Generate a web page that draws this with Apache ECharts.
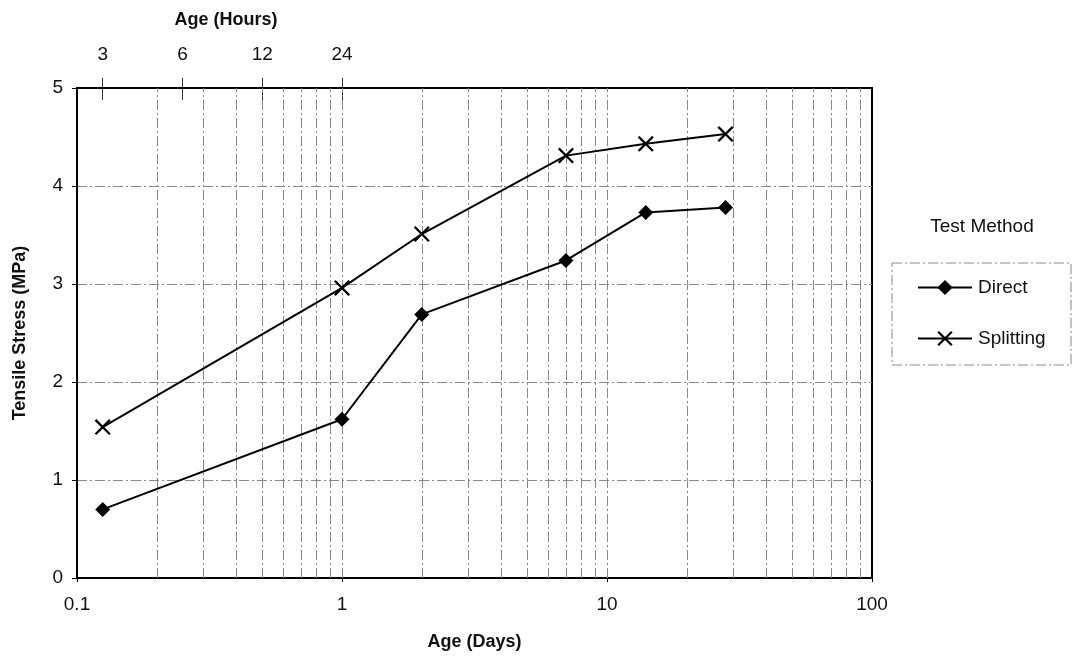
<!DOCTYPE html>
<html>
<head>
<meta charset="utf-8">
<script src="https://cdn.jsdelivr.net/npm/echarts@6/dist/echarts.min.js"></script>
<style>
  html, body { margin: 0; padding: 0; background: #fff; }
  #chart { width: 1072px; height: 671px; }
</style>
</head>
<body>
<div id="chart"></div>
<script>
// Test ages in days (3 hours, 1, 2, 7, 14 and 28 days)
const ageDays = [0.125, 1, 2, 7, 14, 28];
// Tensile stress in MPa for each test method
const directStress = [0.70, 1.62, 2.69, 3.24, 3.73, 3.78];
const splittingStress = [1.54, 2.96, 3.51, 4.31, 4.43, 4.53];
// Secondary (top) axis: ages in hours, given as days on the shared log scale
const hourTickDays = [0.125, 0.25, 0.5, 1];
// Log-scale grid positions (minor and major decade lines inside the plot)
const logGridDays = [0.2, 0.3, 0.4, 0.5, 0.6, 0.7, 0.8, 0.9, 1,
                     2, 3, 4, 5, 6, 7, 8, 9, 10,
                     20, 30, 40, 50, 60, 70, 80, 90];

const FONT = 'Liberation Sans, Arial, sans-serif';
const gridLineStyle = { color: '#888', width: 1, type: [10, 3, 2, 3] };
const xMarkPath = 'path://M0,1L1,0L10,9L9,10Z M9,0L10,1L1,10L0,9Z';

function pairs(xs, ys) { return xs.map((x, i) => [x, ys[i]]); }

const chart = echarts.init(document.getElementById('chart'), null, { renderer: 'canvas' });

chart.setOption({
  animation: false,
  backgroundColor: '#fff',
  textStyle: { fontFamily: FONT },
  grid: {
    left: 77, right: 200, top: 88, bottom: 93,
    show: true, borderColor: '#000', borderWidth: 2, backgroundColor: 'transparent'
  },
  xAxis: [
    {
      type: 'log', logBase: 10, min: 0.1, max: 100, position: 'bottom',
      name: 'Age (Days)', nameLocation: 'middle', nameGap: 55,
      nameTextStyle: { fontFamily: FONT, fontWeight: 'bold', fontSize: 18, color: '#111' },
      axisLine: { show: true, lineStyle: { color: '#000', width: 2 } },
      axisTick: { show: true, length: 4, lineStyle: { color: '#000' } },
      axisLabel: {
        fontFamily: FONT, fontSize: 19, color: '#111', margin: 17,
        formatter: v => String(+(+v).toPrecision(3))
      },
      splitLine: { show: false },
      minorTick: { show: false }
    },
    {
      type: 'log', logBase: 10, min: 0.1, max: 100, position: 'top',
      axisLine: { show: true, lineStyle: { color: '#000', width: 2 } },
      axisTick: { show: true, length: 10, customValues: hourTickDays, lineStyle: { color: '#333' } },
      axisLabel: {
        fontFamily: FONT, fontSize: 19, color: '#111', margin: 24,
        customValues: hourTickDays,
        formatter: v => String(Math.round(v * 24))
      },
      splitLine: { show: false }
    },
    {
      type: 'log', logBase: 10, min: 0.1, max: 100, position: 'top',
      axisLine: { show: false },
      axisTick: { show: true, inside: true, length: 12, customValues: hourTickDays, lineStyle: { color: '#333' } },
      axisLabel: { show: false },
      splitLine: { show: false }
    }
  ],
  yAxis: {
    type: 'value', min: 0, max: 5, interval: 1,
    name: 'Tensile Stress (MPa)', nameLocation: 'middle', nameGap: 48,
    nameTextStyle: { fontFamily: FONT, fontWeight: 'bold', fontSize: 18, color: '#111' },
    axisLine: { show: true, lineStyle: { color: '#000', width: 2 } },
    axisTick: { show: true, length: 5, lineStyle: { color: '#000' } },
    axisLabel: { fontFamily: FONT, fontSize: 19, color: '#111', margin: 14 },
    splitLine: { show: true, lineStyle: gridLineStyle }
  },
  legend: {
    data: ['Direct', 'Splitting'],
    orient: 'vertical', left: 917, top: 278,
    itemWidth: 54, itemHeight: 19, itemGap: 32,
    textStyle: { fontFamily: FONT, fontSize: 19, color: '#111', padding: [0, 0, 0, 1] },
    padding: 0
  },
  graphic: [
    {
      type: 'text', x: 226, y: 20,
      style: {
        text: 'Age (Hours)', fontFamily: FONT, fontWeight: 'bold', fontSize: 18,
        fill: '#111', align: 'center', verticalAlign: 'middle'
      }
    },
    {
      type: 'text', x: 982, y: 227,
      style: {
        text: 'Test Method', fontFamily: FONT, fontSize: 19,
        fill: '#111', align: 'center', verticalAlign: 'middle'
      }
    },
    {
      type: 'rect', shape: { x: 892, y: 263, width: 179, height: 102 },
      style: { fill: 'none', stroke: '#888', lineWidth: 1, lineDash: [10, 3, 2, 3] },
      silent: true
    }
  ],
  series: [
    {
      name: 'grid',
      type: 'line', data: [], silent: true,
      markLine: {
        silent: true, symbol: 'none', label: { show: false },
        lineStyle: gridLineStyle,
        data: logGridDays.map(d => ({ xAxis: d }))
      }
    },
    {
      name: 'Direct', type: 'line',
      data: pairs(ageDays, directStress),
      symbol: 'diamond', symbolSize: 15,
      lineStyle: { color: '#000', width: 2 },
      itemStyle: { color: '#000' },
      z: 5
    },
    {
      name: 'Splitting', type: 'line',
      data: pairs(ageDays, splittingStress),
      symbol: xMarkPath, symbolSize: 16,
      lineStyle: { color: '#000', width: 2 },
      itemStyle: { color: '#000' },
      z: 5
    }
  ]
});
</script>
</body>
</html>
